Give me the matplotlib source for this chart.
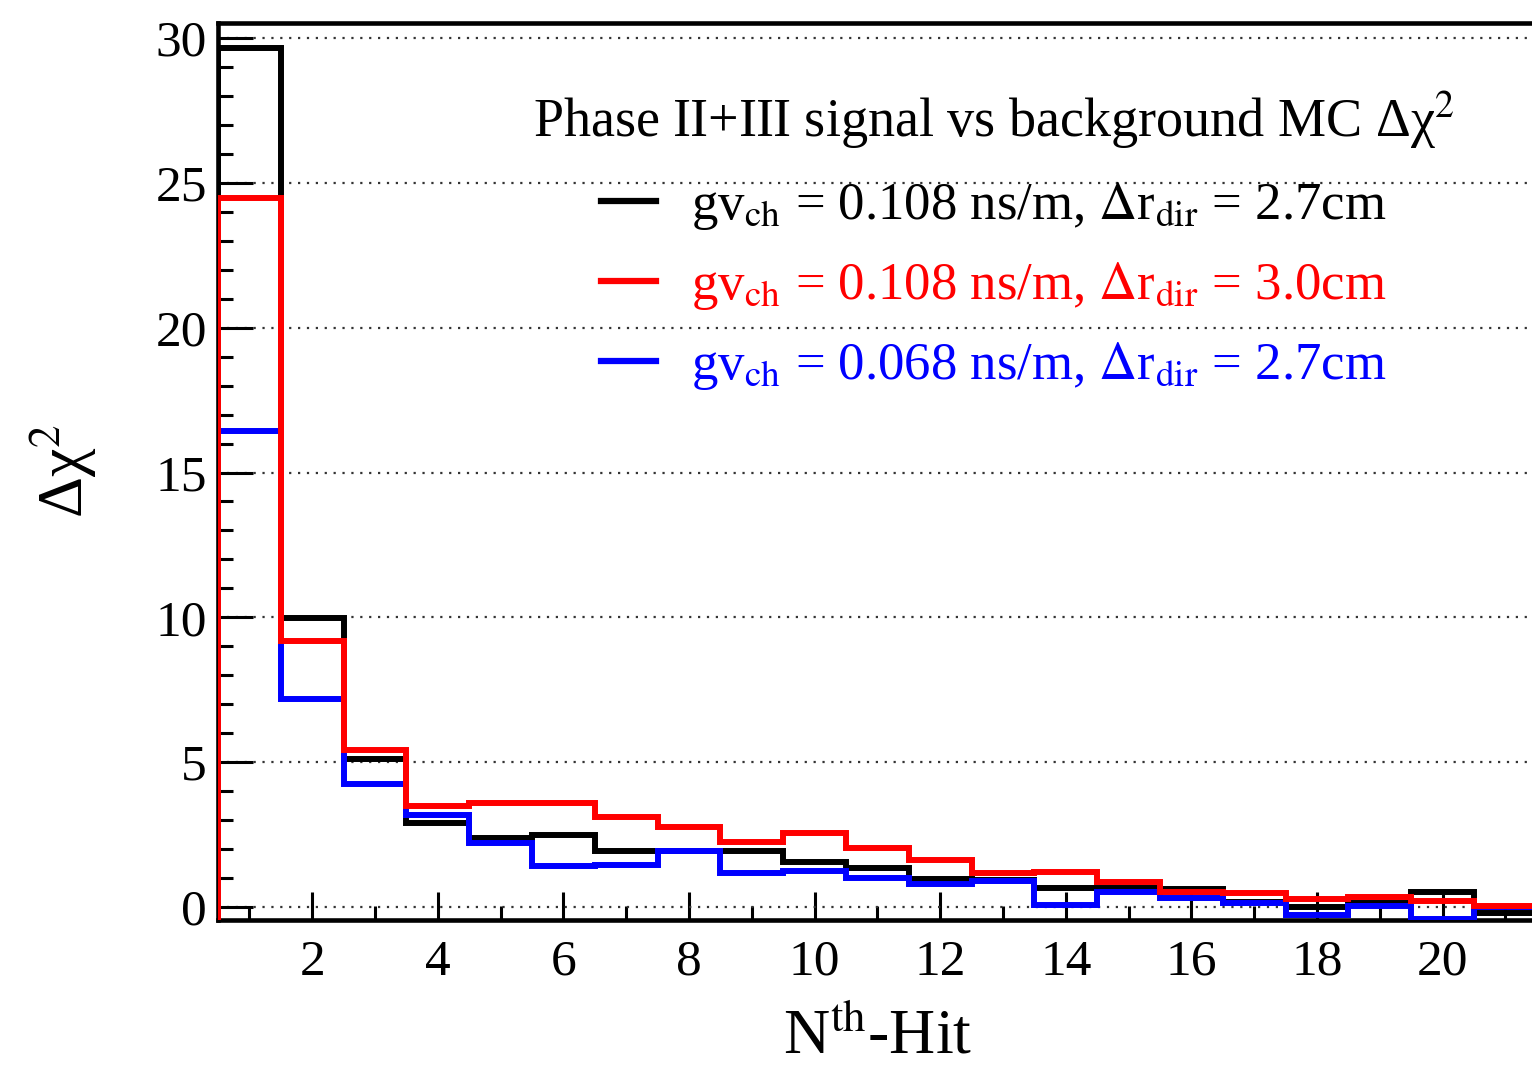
import numpy as np
import matplotlib
matplotlib.use("Agg")
import matplotlib.pyplot as plt
from matplotlib.ticker import MultipleLocator
from matplotlib.lines import Line2D

plt.rcParams["font.family"] = ["Liberation Serif", "DejaVu Serif"]
plt.rcParams["mathtext.fontset"] = "stix"

# bin edges: one bin per hit, centred on integers
edges = np.arange(0.5, 22.5, 1.0)

# delta chi^2 per N-th hit
dchi2_black = [29.65, 9.98, 5.10, 2.90, 2.37, 2.49, 1.94, 1.94, 1.94, 1.54, 1.34,
               0.97, 0.93, 0.65, 0.65, 0.61, 0.16, 0.00, 0.12, 0.53, -0.22]
dchi2_red = [24.48, 9.18, 5.42, 3.49, 3.58, 3.60, 3.10, 2.77, 2.25, 2.54, 2.03,
             1.62, 1.16, 1.20, 0.87, 0.53, 0.47, 0.26, 0.36, 0.20, 0.05]
dchi2_blue = [16.44, 7.18, 4.25, 3.18, 2.20, 1.43, 1.45, 1.94, 1.16, 1.24, 0.99,
              0.78, 0.90, 0.08, 0.52, 0.30, 0.13, -0.28, 0.05, -0.40, 0.00]

labels = [r"gv$_{\rm ch}$ = 0.108 ns/m, $\Delta$r$_{\rm dir}$ = 2.7cm",
          r"gv$_{\rm ch}$ = 0.108 ns/m, $\Delta$r$_{\rm dir}$ = 3.0cm",
          r"gv$_{\rm ch}$ = 0.068 ns/m, $\Delta$r$_{\rm dir}$ = 2.7cm"]
colors = ["black", "#ff0000", "#0000ff"]

ymin, ymax = -0.45, 30.52

fig = plt.figure(figsize=(15.32, 10.67), dpi=100)
ax = fig.add_axes([218 / 1532, 1 - 920 / 1067, 1318.8 / 1532, 897 / 1067])

# black first, then blue, red on top
for vals, c, z in [(dchi2_black, colors[0], 3), (dchi2_blue, colors[2], 4), (dchi2_red, colors[1], 5)]:
    ax.stairs(vals, edges, baseline=ymin, color=c, linewidth=4.3, zorder=z)

ax.set_xlim(0.5, 21.5)
ax.set_ylim(ymin, ymax)

# horizontal dotted grid at major y ticks
ax.yaxis.set_major_locator(MultipleLocator(5))
ax.yaxis.set_minor_locator(MultipleLocator(1))
ax.xaxis.set_major_locator(MultipleLocator(2))
ax.xaxis.set_minor_locator(MultipleLocator(1))
ax.grid(axis="y", which="major", color="#333333", linestyle=(0, (1, 3)), linewidth=1.6, zorder=6)

ax.tick_params(which="both", direction="in", width=2.2, colors="black", labelsize=37)
ax.tick_params(axis="x", which="major", length=20, pad=14)
ax.tick_params(axis="x", which="minor", length=10)
ax.tick_params(axis="y", which="major", length=25, pad=8)
ax.tick_params(axis="y", which="minor", length=11)

for s in ax.spines.values():
    s.set_linewidth(3.3)
ax.spines["right"].set_visible(False)

ax.set_xlabel(r"N$^{\rm th}$-Hit", fontsize=46)
ax.xaxis.set_label_coords(0.5, -0.1)
ax.set_ylabel(r"Δχ$^{2}$", fontsize=46)
ax.yaxis.set_label_coords(-0.09, 0.5)

handles = [Line2D([], [], color=c, linewidth=4.5) for c in colors]
leg = ax.legend(handles, labels, loc="upper center", bbox_to_anchor=(994 / 1532, 1 - 90 / 1067),
                bbox_transform=fig.transFigure, frameon=False, fontsize=38,
                title=r"Phase II+III signal vs background MC Δχ$^{2}$",
                title_fontsize=39, handlelength=1.04, handletextpad=0.66, labelspacing=0.53,
                borderpad=0, borderaxespad=0)
for txt, c in zip(leg.get_texts(), colors):
    txt.set_color(c)
leg.set_zorder(10)

fig.savefig("out.png", dpi=100)
